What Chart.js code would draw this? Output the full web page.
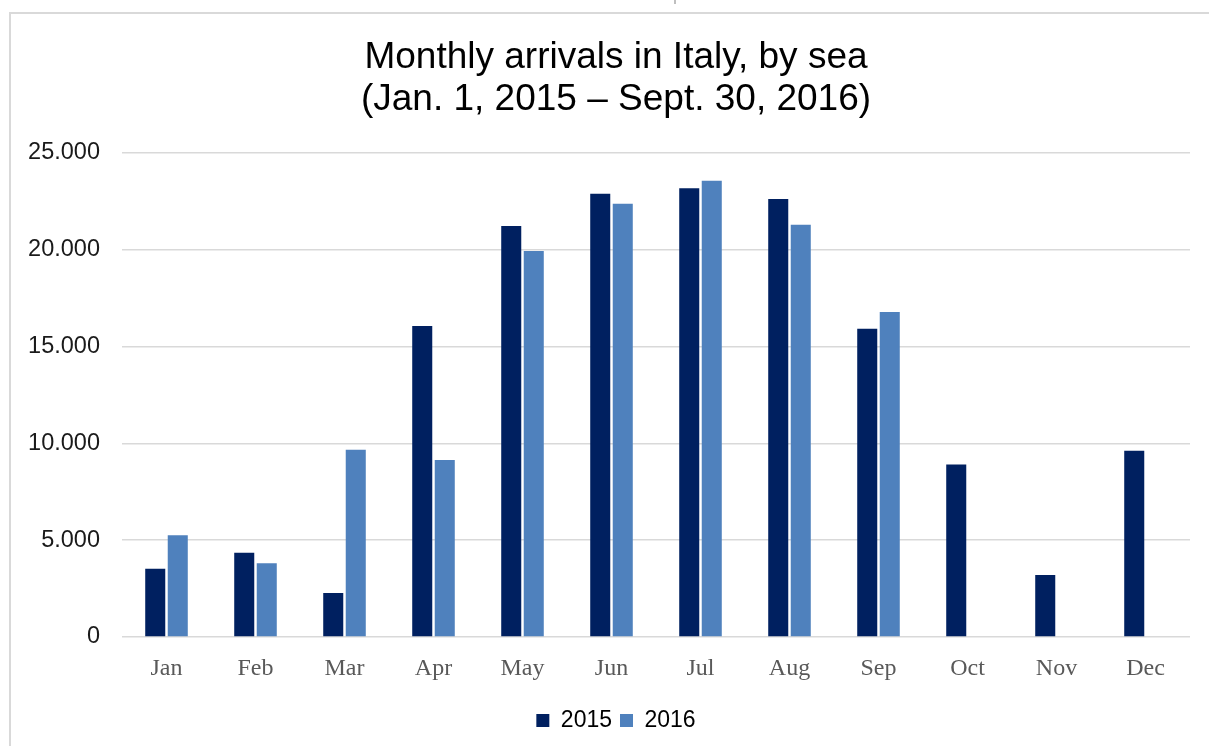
<!DOCTYPE html>
<html>
<head>
<meta charset="utf-8">
<script src="https://cdn.jsdelivr.net/npm/chart.js@4/dist/chart.umd.min.js"></script>
<style>
  html, body { margin: 0; padding: 0; background: #fff; }
  body { width: 1209px; height: 746px; position: relative; overflow: hidden; }
  .frame { position: absolute; left: 9px; top: 12px; right: -5px; bottom: -5px;
           border-left: 2px solid #d9d9d9; border-top: 2px solid #d9d9d9; }
  .tick { position: absolute; left: 674px; top: 0; width: 2px; height: 4px; background: #bfbfbf; }
  /* o quadro original passa da borda direita: canvas um pouco mais largo */
  .wrap { position: absolute; left: 0; top: 0; width: 1232px; height: 746px; }
</style>
</head>
<body>
<div class="tick"></div>
<div class="frame"></div>
<div class="wrap"><canvas id="grafico"></canvas></div>
<script>
const meses = ["Jan", "Feb", "Mar", "Apr", "May", "Jun", "Jul", "Aug", "Sep", "Oct", "Nov", "Dec"];
const chegadas2015 = [3520, 4350, 2270, 16060, 21230, 22900, 23180, 22620, 15920, 8910, 3200, 9620];
const chegadas2016 = [5260, 3810, 9670, 9140, 19940, 22380, 23560, 21290, 16790, null, null, null];
const ticksY = [0, 5000, 10000, 15000, 20000, 25000];

// formato com ponto de milhar, como no original
const formatar = (v) => String(v).replace(/\B(?=(\d{3})+(?!\d))/g, ".");

const ctx = document.getElementById("grafico");

new Chart(ctx, {
    type: "bar",
    data: {
        labels: meses,
        datasets: [
            {
                label: "2015",
                data: chegadas2015,
                backgroundColor: "#002060",
                barPercentage: 0.89,
                categoryPercentage: 0.506
            },
            {
                label: "2016",
                data: chegadas2016,
                backgroundColor: "#4f81bd",
                barPercentage: 0.89,
                categoryPercentage: 0.506
            }
        ]
    },
    options: {
        responsive: true,
        maintainAspectRatio: false,
        animation: false,
        layout: { padding: { left: 0, right: 0, top: 0, bottom: 4 } },
        plugins: {
            title: {
                display: true,
                text: ["Monthly arrivals in Italy, by sea", "(Jan. 1, 2015 \u2013 Sept. 30, 2016)"],
                color: "#000",
                font: { family: "'Liberation Sans', Arial, sans-serif", size: 37, weight: "normal", lineHeight: 1.135 },
                padding: { top: 37, bottom: 32 }
            },
            legend: {
                position: "bottom",
                labels: {
                    color: "#000",
                    boxWidth: 13,
                    boxHeight: 13,
                    padding: 8,
                    font: { family: "'Liberation Sans', Arial, sans-serif", size: 23 }
                }
            },
            tooltip: { enabled: false }
        },
        scales: {
            x: {
                grid: { display: false, drawTicks: false },
                border: { display: false },
                ticks: {
                    color: "#595959",
                    padding: 20,
                    font: { family: "'Liberation Serif', 'DejaVu Serif', serif", size: 24, lineHeight: 1.0 }
                }
            },
            y: {
                min: 0,
                max: 25000,
                afterFit: (scale) => { scale.width = 122; },
                afterBuildTicks: (scale) => { scale.ticks = ticksY.map((v) => ({ value: v })); },
                grid: { color: "#d9d9d9", lineWidth: 1.5, drawTicks: false },
                border: { display: false },
                ticks: {
                    color: "#1a1a1a",
                    padding: 22,
                    callback: (v) => formatar(v),
                    font: { family: "'Liberation Sans', Arial, sans-serif", size: 23.5 }
                }
            },
            // eixo vazio a direita, so para reservar espaco
            margem: {
                position: "right",
                afterFit: (scale) => { scale.width = 42; },
                grid: { display: false, drawTicks: false },
                border: { display: false },
                ticks: { display: false }
            }
        }
    }
});
</script>
</body>
</html>
